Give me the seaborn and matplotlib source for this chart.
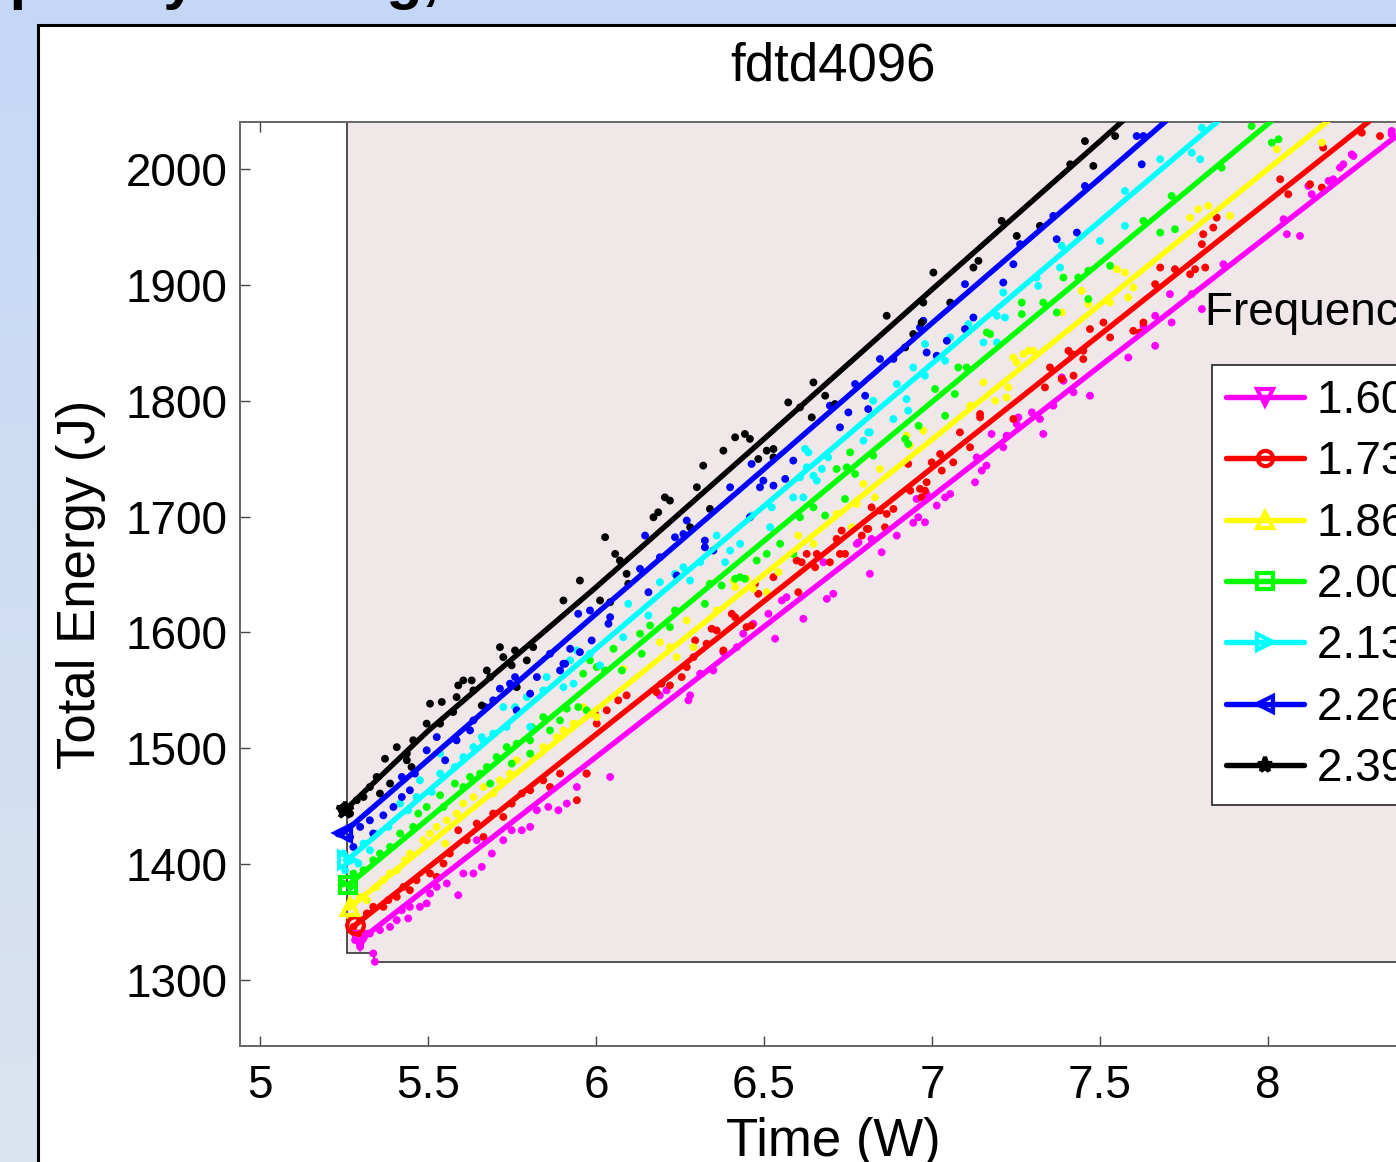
import numpy as np
import pandas as pd
import matplotlib
matplotlib.use("Agg")
import matplotlib.pyplot as plt
from matplotlib.patches import Rectangle, Polygon
from matplotlib.lines import Line2D
import seaborn as sns

sns.set_style("ticks")
plt.rcParams['font.family'] = ['Liberation Sans', 'DejaVu Sans']
plt.rcParams['text.color'] = 'black'
plt.rcParams['axes.labelcolor'] = 'black'

W, H = 1396, 1162

# ---------------- data ----------------
freq_labels = ["1.60 GHz", "1.73 GHz", "1.86 GHz", "2.00 GHz", "2.13 GHz", "2.26 GHz", "2.39 GHz"]
colors = ["#ff00ff", "#ff0000", "#ffff00", "#00ff00", "#00ffff", "#0000ff", "#000000"]
markers = ["v", "o", "^", "s", ">", "<", "*"]

# fitted lines (time in s, energy in J)
line_t = [
    [5.298, 5.5, 6.0, 6.5, 7.0, 7.5, 8.0, 8.5],
    [5.283, 5.5, 6.0, 6.5, 7.0, 7.5, 8.0, 8.5],
    [5.268, 5.5, 6.0, 6.5, 7.0, 7.5, 8.0, 8.5],
    [5.262, 5.5, 6.0, 6.5, 7.0, 7.5, 8.0, 8.5],
    [5.259, 5.5, 6.0, 6.5, 7.0, 7.5, 8.0],
    [5.247, 5.5, 6.0, 6.5, 7.0, 7.5, 8.0],
    [5.253, 5.5, 6.0, 6.5, 7.0, 7.5, 8.0],
]
line_e = [
    [1334.5, 1380, 1492.5, 1605, 1717.5, 1830, 1942.5, 2055],
    [1347.4, 1397, 1512, 1627, 1742, 1857, 1972, 2087],
    [1363, 1417, 1533.5, 1650, 1766.5, 1883, 2000, 2116],
    [1382, 1439, 1559, 1679, 1799, 1919, 2039, 2159],
    [1403.4, 1463, 1586, 1709, 1832, 1955, 2078],
    [1426.7, 1490, 1616, 1741, 1867, 1992, 2118],
    [1446.6, 1515, 1639, 1767, 1896, 2024, 2153],
]

# measured samples (time, energy) per frequency
mag_t = [5.283, 5.298, 5.308, 5.337, 5.342, 5.327, 5.357, 5.387, 5.407, 5.422, 5.441, 5.446, 5.476, 5.496, 5.506, 5.526,
         5.556, 5.590, 5.605, 5.635, 5.660, 5.690, 5.724, 5.749, 5.779, 5.804, 5.824, 5.858, 5.888, 5.913, 5.943, 5.972,
         6.042, 5.645, 6.190, 6.210, 6.275, 6.280, 6.310, 6.349, 6.379, 6.419, 6.438, 6.468, 6.513, 6.533, 6.553, 6.567,
         6.617, 6.677, 6.687, 6.706, 6.776, 6.815, 6.850, 6.944, 6.781, 6.820, 6.895, 6.959, 6.979, 6.954, 6.984, 7.014,
         7.039, 7.054, 7.128, 7.148, 7.162, 7.133, 7.212, 7.222, 7.177, 7.252, 7.257, 7.297, 7.321, 7.331, 7.361, 7.386,
         7.391, 7.421, 7.470, 7.584, 7.629, 7.664, 7.664, 7.708, 7.713, 7.773, 7.803, 7.867, 8.046, 8.056, 8.095, 8.120,
         8.130, 8.180, 8.194, 8.214, 8.224, 8.249, 8.254, 8.368, 8.368]
mag_e = [1334.5, 1328.7, 1335.9, 1323.0, 1315.8, 1340.2, 1343.1, 1345.9, 1351.7, 1360.3, 1353.2, 1363.2, 1363.2, 1366.1,
         1374.7, 1380.4, 1383.4, 1373.3, 1392.0, 1392.0, 1397.7, 1409.2, 1420.7, 1429.3, 1429.3, 1432.2, 1446.6, 1449.4,
         1446.6, 1452.3, 1466.6, 1478.2, 1475.3, 1420.7, 1545.7, 1550.0, 1541.4, 1545.7, 1564.4, 1567.2, 1583.0, 1587.3,
         1598.9, 1607.5, 1616.1, 1594.6, 1627.6, 1630.4, 1611.8, 1660.6, 1629.0, 1633.4, 1676.5, 1650.6, 1669.2, 1694.6,
         1677.8, 1680.7, 1683.6, 1699.4, 1695.1, 1715.2, 1719.5, 1709.5, 1716.6, 1719.5, 1729.6, 1739.7, 1744.0, 1751.1,
         1759.8, 1769.8, 1771.3, 1779.9, 1785.6, 1789.9, 1784.2, 1771.3, 1795.7, 1820.1, 1817.2, 1807.2, 1804.3, 1837.3,
         1864.7, 1873.3, 1847.4, 1892.0, 1867.5, 1892.0, 1879.1, 1917.8, 1956.6, 1943.7, 1942.2, 1985.3, 1978.2, 1989.7,
         1991.1, 2001.1, 2004.0, 2012.6, 2011.2, 2032.8, 2029.9]

red_t = [5.278, 5.298, 5.293, 5.318, 5.337, 5.367, 5.382, 5.407, 5.427, 5.446, 5.466, 5.506, 5.526, 5.546, 5.565, 5.590,
         5.615, 5.645, 5.665, 5.694, 5.724, 5.749, 5.779, 5.804, 5.843, 5.863, 5.893, 5.943, 5.972, 6.002, 6.032, 5.997,
         6.091, 6.066, 6.180, 6.195, 6.220, 6.255, 6.270, 6.290, 6.295, 6.329, 6.344, 6.359, 6.379, 6.404, 6.414, 6.448,
         6.463, 6.473, 6.483, 6.528, 6.597, 6.602, 6.627, 6.657, 6.716, 6.726, 6.741, 6.791, 6.806, 6.820, 6.845, 6.929,
         6.612, 6.652, 6.696, 6.731, 6.810, 6.860, 6.865, 6.885, 6.935, 6.964, 6.969, 6.979, 6.984, 6.999, 7.029, 7.024,
         7.063, 7.083, 7.113, 7.143, 7.143, 7.242, 7.336, 7.351, 7.386, 7.406, 7.421, 7.416, 7.450, 7.450, 7.470, 7.510,
         7.530, 7.599, 7.619, 7.629, 7.664, 7.679, 7.723, 7.768, 7.783, 7.803, 7.807, 7.837, 7.847, 7.813, 8.036, 8.060,
         8.125, 8.160, 8.164, 8.333, 8.279]
red_e = [1345.9, 1351.7, 1340.2, 1357.5, 1363.2, 1363.2, 1369.0, 1371.8, 1380.4, 1377.6, 1386.2, 1392.0, 1389.1, 1400.6,
         1409.2, 1429.3, 1420.7, 1435.1, 1423.5, 1443.7, 1440.8, 1452.3, 1461.0, 1463.8, 1472.4, 1466.6, 1478.2, 1455.2,
         1478.2, 1521.3, 1532.8, 1529.9, 1545.7, 1541.4, 1548.5, 1555.8, 1554.3, 1561.5, 1570.1, 1578.7, 1593.1, 1590.3,
         1603.2, 1601.7, 1584.5, 1616.1, 1613.2, 1604.6, 1606.0, 1642.0, 1633.4, 1647.7, 1662.1, 1634.7, 1667.8, 1667.8,
         1680.7, 1667.8, 1667.8, 1683.6, 1689.4, 1708.0, 1705.2, 1745.4, 1660.6, 1656.3, 1660.6, 1687.9, 1689.4, 1690.8,
         1702.3, 1706.6, 1722.4, 1723.9, 1716.6, 1722.4, 1729.6, 1746.8, 1739.7, 1754.0, 1746.8, 1772.7, 1759.8, 1788.5,
         1785.6, 1784.2, 1811.5, 1828.7, 1818.7, 1843.1, 1821.6, 1840.2, 1835.9, 1843.1, 1861.8, 1867.5, 1854.6, 1860.3,
         1858.9, 1867.5, 1900.6, 1914.9, 1913.5, 1909.2, 1913.5, 1935.1, 1943.7, 1949.4, 1958.0, 1914.9, 1991.1, 1978.2,
         1986.8, 1983.9, 2018.4, 2028.4, 2031.3]

yel_t = [5.263, 5.278, 5.268, 5.298, 5.318, 5.347, 5.367, 5.387, 5.407, 5.432, 5.446, 5.486, 5.506, 5.526, 5.551, 5.556,
         5.585, 5.605, 5.635, 5.665, 5.694, 5.714, 5.744, 5.764, 5.804, 5.843, 5.883, 5.903, 5.933, 5.962, 5.982, 6.002,
         6.081, 6.190, 6.220, 6.240, 6.270, 6.290, 6.359, 6.409, 6.414, 6.448, 6.468, 6.508, 6.543, 6.587, 6.602, 6.647,
         6.716, 6.761, 6.776, 6.796, 6.830, 6.845, 6.924, 6.934, 6.974, 7.113, 7.153, 7.188, 7.222, 7.227, 7.242, 7.252,
         7.272, 7.287, 7.301, 7.386, 7.445, 7.465, 7.530, 7.550, 7.574, 7.584, 7.599, 7.768, 7.792, 7.822, 7.887, 8.160,
         8.026]
yel_e = [1363.2, 1366.1, 1354.6, 1371.8, 1369.0, 1380.4, 1386.2, 1392.0, 1394.8, 1403.4, 1409.2, 1420.7, 1426.5, 1432.2,
         1417.8, 1437.9, 1443.7, 1452.3, 1458.0, 1466.6, 1461.0, 1472.4, 1478.2, 1489.7, 1495.4, 1501.1, 1509.7, 1515.5,
         1521.3, 1535.6, 1529.9, 1527.0, 1568.7, 1591.6, 1587.3, 1578.7, 1610.3, 1587.3, 1619.0, 1644.8, 1639.1, 1646.3,
         1637.7, 1634.7, 1652.0, 1667.8, 1683.6, 1676.5, 1702.3, 1690.8, 1710.9, 1728.2, 1716.6, 1741.1, 1769.8, 1761.2,
         1774.1, 1795.7, 1815.8, 1800.0, 1802.8, 1811.5, 1837.3, 1833.0, 1840.2, 1843.1, 1843.1, 1876.1, 1894.8, 1883.4,
         1884.7, 1913.5, 1910.6, 1889.0, 1897.7, 1958.0, 1965.2, 1968.1, 1959.5, 2022.7, 2017.0]

grn_t = [5.248, 5.268, 5.278, 5.308, 5.337, 5.357, 5.387, 5.417, 5.456, 5.471, 5.496, 5.536, 5.546, 5.580, 5.605, 5.625,
         5.655, 5.675, 5.704, 5.734, 5.764, 5.804, 5.809, 5.843, 5.863, 5.893, 5.913, 5.947, 5.972, 5.982, 6.002, 6.027,
         5.804, 5.749, 5.685, 5.962, 6.052, 6.077, 6.131, 6.136, 6.161, 6.220, 6.235, 6.324, 6.339, 6.374, 6.414, 6.429,
         6.443, 6.508, 6.478, 6.548, 6.587, 6.607, 6.647, 6.682, 6.716, 6.741, 6.746, 6.771, 6.756, 6.825, 6.920, 6.929,
         6.960, 7.009, 7.039, 7.068, 7.078, 7.103, 7.163, 7.173, 7.267, 7.267, 7.331, 7.371, 7.391, 7.435, 7.465, 7.465,
         7.530, 7.629, 7.679, 7.713, 7.723, 7.862, 7.951, 8.011, 8.031]
grn_e = [1383.4, 1380.4, 1392.0, 1394.8, 1403.4, 1409.2, 1414.9, 1426.5, 1432.2, 1443.7, 1449.4, 1459.5, 1449.4, 1469.6,
         1466.6, 1475.3, 1478.2, 1483.9, 1492.5, 1501.1, 1504.0, 1506.9, 1518.4, 1527.0, 1515.5, 1524.1, 1534.2, 1535.6,
         1532.8, 1575.9, 1570.1, 1567.2, 1495.4, 1486.8, 1469.6, 1564.4, 1585.9, 1567.2, 1598.9, 1581.6, 1606.0, 1604.6,
         1619.0, 1624.7, 1642.0, 1640.5, 1646.3, 1647.7, 1646.3, 1667.8, 1662.1, 1676.5, 1667.8, 1699.4, 1708.0, 1700.9,
         1741.1, 1715.2, 1742.5, 1736.8, 1755.4, 1752.6, 1767.0, 1762.7, 1778.4, 1810.1, 1787.0, 1805.8, 1828.7, 1828.7,
         1858.9, 1857.5, 1884.7, 1874.7, 1884.7, 1876.1, 1906.3, 1906.3, 1912.1, 1887.7, 1916.4, 1955.2, 1945.1, 1976.7,
         1948.0, 2001.1, 2037.0, 2022.7, 2025.6]

cyn_t = [5.248, 5.258, 5.253, 5.293, 5.308, 5.327, 5.347, 5.382, 5.417, 5.441, 5.466, 5.476, 5.511, 5.536, 5.580, 5.605,
         5.635, 5.665, 5.694, 5.734, 5.759, 5.794, 5.804, 5.843, 5.853, 5.903, 5.923, 5.943, 5.982, 5.724, 5.660, 5.536,
         5.933, 6.012, 6.081, 6.096, 6.156, 6.190, 6.235, 6.260, 6.280, 6.310, 6.359, 6.384, 6.399, 6.429, 6.463, 6.518,
         6.523, 6.587, 6.607, 6.627, 6.657, 6.672, 6.691, 6.796, 6.810, 6.825, 6.885, 6.929, 6.895, 6.622, 6.632, 6.617,
         6.647, 6.815, 6.924, 6.944, 6.979, 6.979, 7.039, 7.054, 7.108, 7.153, 7.193, 7.193, 7.217, 7.212, 7.311, 7.316,
         7.381, 7.386, 7.500, 7.574, 7.574, 7.679, 7.773, 7.798, 7.803]
cyn_e = [1409.2, 1403.4, 1394.8, 1400.6, 1417.8, 1412.1, 1426.5, 1432.2, 1452.3, 1446.6, 1458.0, 1472.4, 1462.3, 1478.2,
         1483.9, 1492.5, 1501.1, 1506.9, 1512.7, 1518.4, 1535.6, 1544.2, 1518.4, 1550.0, 1561.5, 1552.8, 1575.9, 1584.5,
         1581.6, 1535.6, 1509.7, 1495.4, 1555.8, 1571.6, 1595.9, 1624.7, 1614.7, 1643.4, 1650.6, 1656.3, 1644.8, 1660.6,
         1683.6, 1660.6, 1670.7, 1676.5, 1700.9, 1690.8, 1708.0, 1716.6, 1733.9, 1742.5, 1731.0, 1741.1, 1751.1, 1765.5,
         1772.7, 1800.0, 1784.2, 1791.4, 1814.4, 1758.4, 1755.4, 1716.6, 1735.3, 1772.7, 1801.4, 1828.7, 1821.6, 1848.9,
         1834.5, 1854.6, 1866.1, 1850.3, 1850.3, 1873.3, 1871.8, 1893.4, 1906.3, 1899.1, 1914.9, 1933.6, 1937.9, 1950.9,
         1981.0, 2008.4, 2014.0, 2008.4, 2035.6]

blu_t = [5.233, 5.268, 5.278, 5.298, 5.327, 5.337, 5.367, 5.397, 5.422, 5.422, 5.446, 5.461, 5.496, 5.526, 5.551, 5.585,
         5.625, 5.635, 5.670, 5.694, 5.714, 5.744, 5.764, 5.804, 5.824, 5.863, 5.893, 5.903, 5.923, 5.759, 5.947, 5.982,
         5.987, 5.952, 5.908, 6.037, 6.042, 6.131, 6.146, 6.156, 6.190, 6.235, 6.240, 6.260, 6.270, 6.324, 6.324, 6.349,
         6.399, 6.458, 6.463, 6.488, 6.498, 6.528, 6.563, 6.587, 6.696, 6.726, 6.751, 6.771, 6.801, 6.810, 6.845, 6.885,
         6.964, 6.974, 6.984, 7.014, 7.044, 7.098, 7.098, 7.123, 7.212, 7.242, 7.262, 7.361, 7.371, 7.431, 7.455, 7.609,
         7.629, 7.624]
blu_e = [1426.5, 1423.5, 1414.9, 1432.2, 1437.9, 1426.5, 1442.2, 1449.4, 1458.0, 1475.3, 1463.8, 1478.2, 1498.3, 1509.7,
         1489.7, 1506.9, 1515.5, 1524.1, 1535.6, 1541.4, 1551.5, 1555.8, 1532.8, 1547.2, 1561.5, 1581.6, 1567.2, 1573.0,
         1585.9, 1561.5, 1616.1, 1619.0, 1593.1, 1583.0, 1573.0, 1607.5, 1613.2, 1654.9, 1683.6, 1634.7, 1664.9, 1682.2,
         1649.1, 1685.0, 1696.6, 1673.5, 1679.3, 1670.7, 1725.3, 1699.4, 1745.4, 1725.3, 1731.0, 1726.7, 1732.5, 1748.3,
         1795.7, 1777.0, 1789.9, 1814.4, 1804.3, 1792.8, 1836.0, 1836.0, 1863.2, 1869.0, 1841.6, 1838.8, 1851.7, 1900.6,
         1861.8, 1871.8, 1902.0, 1917.8, 1935.1, 1959.5, 1939.4, 1945.1, 1985.3, 2028.4, 2028.4, 2004.0]

blk_t = [5.248, 5.268, 5.243, 5.288, 5.308, 5.327, 5.347, 5.372, 5.407, 5.437, 5.456, 5.496, 5.506, 5.541, 5.585, 5.590,
         5.605, 5.630, 5.635, 5.675, 5.685, 5.714, 5.724, 5.749, 5.759, 5.764, 5.794, 5.813, 5.660, 5.451, 5.387, 5.357,
         5.437, 5.536, 5.575, 5.903, 5.952, 6.027, 6.057, 6.071, 6.091, 6.096, 6.171, 6.185, 6.205, 6.220, 6.280, 6.300,
         6.319, 6.339, 6.379, 6.414, 6.443, 6.458, 6.483, 6.508, 6.528, 6.528, 6.572, 6.607, 6.642, 6.647, 6.682, 6.711,
         6.012, 6.042, 6.865, 6.920, 6.944, 6.969, 6.974, 7.004, 7.054, 7.123, 7.138, 7.207, 7.252, 7.321, 7.411, 7.455,
         7.480, 7.545]
blk_e = [1449.4, 1443.7, 1446.6, 1455.2, 1458.0, 1466.6, 1475.3, 1491.0, 1501.0, 1495.4, 1507.0, 1521.3, 1538.5, 1540.0,
         1544.2, 1554.3, 1558.6, 1558.6, 1550.0, 1567.2, 1561.5, 1587.3, 1578.7, 1571.6, 1584.5, 1552.8, 1575.9, 1587.3,
         1537.0, 1483.9, 1469.6, 1461.0, 1489.7, 1521.3, 1531.3, 1627.6, 1644.8, 1682.2, 1667.8, 1662.1, 1650.6, 1642.0,
         1699.4, 1703.7, 1716.6, 1713.8, 1690.8, 1725.3, 1744.0, 1706.6, 1756.9, 1768.4, 1771.3, 1767.0, 1749.7, 1756.9,
         1758.3, 1751.1, 1798.5, 1794.2, 1785.6, 1815.8, 1804.3, 1797.1, 1627.6, 1626.1, 1873.3, 1846.0, 1857.5, 1867.5,
         1884.7, 1910.6, 1884.7, 1914.9, 1920.7, 1955.2, 1942.2, 1950.9, 2004.0, 2024.0, 2002.6, 2028.4]

dot_t = [mag_t, red_t, yel_t, grn_t, cyn_t, blu_t, blk_t]
dot_e = [mag_e, red_e, yel_e, grn_e, cyn_e, blu_e, blk_e]

# shaded region outline (time, energy)
region_t = [5.259, 5.259, 5.339, 5.339, 8.70, 8.70]
region_e = [2100, 1323.3, 1323.3, 1315.5, 1315.5, 2100]

x_ticks = [5, 5.5, 6, 6.5, 7, 7.5, 8]
x_ticklabels = ["5", "5.5", "6", "6.5", "7", "7.5", "8"]
y_ticks = [1300, 1400, 1500, 1600, 1700, 1800, 1900, 2000]

# ---------------- frames ----------------
lines_df = pd.concat([pd.DataFrame({"t": t, "e": e, "freq": lab})
                      for t, e, lab in zip(line_t, line_e, freq_labels)], ignore_index=True)
dots_df = pd.concat([pd.DataFrame({"t": t, "e": e, "freq": lab})
                     for t, e, lab in zip(dot_t, dot_e, freq_labels)], ignore_index=True)
palette = dict(zip(freq_labels, colors))

# ---------------- figure ----------------
fig = plt.figure(figsize=(W / 100, H / 100), dpi=100)

# slide background gradient
bg = fig.add_axes([0, 0, 1, 1], zorder=-10)
top_c = np.array([0xc4, 0xd8, 0xf6]) / 255
bot_c = np.array([0xdb, 0xe3, 0xef]) / 255
grad = np.linspace(0, 1, 256)[:, None, None]
img = top_c[None, None, :] * (1 - grad) + bot_c[None, None, :] * grad
bg.imshow(np.repeat(img, 2, axis=1), aspect="auto", extent=[0, 1, 0, 1])
bg.set_axis_off()

# cut-off slide heading
fig.text(-102 / W, 1 + 2 / H, "Frequency Scaling,", fontsize=42.5, fontweight="bold",
         color="black", ha="left", va="baseline", zorder=-4)

# white figure panel
panel = Rectangle((38 / W, -0.1), 2.0, 1 - 25 / H + 0.1, transform=fig.transFigure,
                  facecolor="white", edgecolor="black", linewidth=2.2, zorder=-5)
fig.patches.append(panel)

ax = fig.add_axes([240 / W, 1 - 1046 / H, 1186 / W, 924 / H])
ax.set_facecolor("white")

# shaded region
ax.add_patch(Polygon(np.column_stack([region_t, region_e]), closed=True,
                     facecolor="#efe7e8", edgecolor="#333333", linewidth=1.2, zorder=1))

sns.scatterplot(data=dots_df, x="t", y="e", hue="freq", palette=palette, s=32,
                linewidth=0, legend=False, ax=ax, zorder=2)
sns.lineplot(data=lines_df, x="t", y="e", hue="freq", palette=palette, linewidth=3.9,
             legend=False, ax=ax, estimator=None, sort=True, zorder=3)
for t, e, c, m in zip(line_t, line_e, colors, markers):
    ax.plot(t[:1], e[:1], linestyle="none", marker=m, markersize=12, markerfacecolor="none",
            markeredgecolor=c, markeredgewidth=3, zorder=4)

ax.set_xlim(5 - 20 / 336, 8.47)
ax.set_ylim(1300 - 66 / 1.16, 2000 + 47 / 1.16)
ax.set_xticks(x_ticks)
ax.set_xticklabels(x_ticklabels)
ax.set_yticks(y_ticks)
ax.tick_params(direction="in", length=7, width=1.0, color="#444444", top=True, right=True,
               labelsize=33, labelcolor="black")
ax.tick_params(axis="x", pad=13)
ax.tick_params(axis="y", pad=9)
for sp in ax.spines.values():
    sp.set_color("#666666")
    sp.set_linewidth(1.4)

ax.set_title("fdtd4096", fontsize=38, pad=30, color="black")
ax.set_xlabel("Time (W)", fontsize=38, color="black")
ax.set_ylabel("Total Energy (J)", fontsize=38, color="black")
ax.xaxis.set_label_coords(0.5, -(1117 - 1046) / 924)
ax.yaxis.set_label_coords((106 - 240) / 1186, 0.5)

handles = [Line2D([], [], color=c, linewidth=3.9, marker=m, markersize=11, markerfacecolor="none",
                  markeredgecolor=c, markeredgewidth=3) for c, m in zip(colors, markers)]
leg = ax.legend(handles, freq_labels, loc="upper left", bbox_to_anchor=(1212 / W, 1 - 365 / H),
                bbox_transform=fig.transFigure, borderaxespad=0, frameon=True, fancybox=False,
                edgecolor="#333333", facecolor="white", framealpha=1, fontsize=33,
                handlelength=1.7, handletextpad=0.3, labelspacing=0.38, borderpad=0.3)
leg.get_frame().set_linewidth(1.3)
for txt in leg.get_texts():
    txt.set_color("black")

fig.text(1205 / W, 1 - 325 / H, "Frequency (GHz)", fontsize=33, ha="left", va="baseline",
         color="black")

fig.savefig("out.png", dpi=100)
